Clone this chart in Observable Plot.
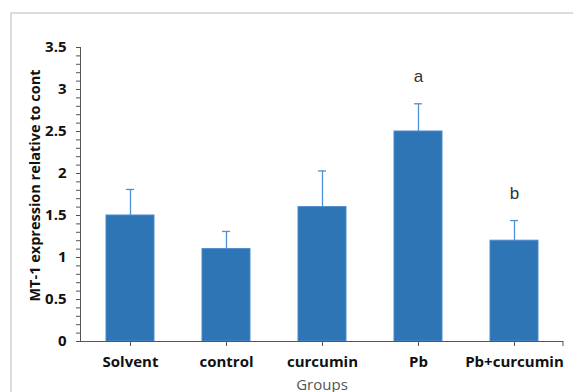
<!DOCTYPE html>
<html>
<head>
<meta charset="utf-8">
<script src="https://cdn.jsdelivr.net/npm/d3@7"></script>
<script src="https://cdn.jsdelivr.net/npm/@observablehq/plot@0.6"></script>
<style>
  html, body { margin: 0; padding: 0; background: #fff; overflow: hidden; }
  #wrap { position: relative; width: 573px; height: 392px; }
  #frame { position: absolute; left: 10px; top: 12px; width: 600px; height: 400px;
           border-left: 2px solid #dcdcdc; border-top: 2px solid #dcdcdc; }
  #chart { position: absolute; left: 0; top: 0; }
</style>
</head>
<body>
<div id="wrap"><div id="frame"></div><div id="chart"></div></div>
<script>
const groups = ["Solvent", "control", "curcumin", "Pb", "Pb+curcumin"];
const means = [1.5, 1.1, 1.6, 2.5, 1.2];
const upperErr = [1.81, 1.31, 2.03, 2.83, 1.44];
const letters = ["", "", "", "a", "b"];
const yTicks = [0, 0.5, 1, 1.5, 2, 2.5, 3, 3.5];
const yMinorTicks = d3.range(0, 36).map(i => i / 10);
const yLabel = "MT-1 expression relative to cont";
const xLabel = "Groups";

const data = groups.map((g, i) => ({group: g, value: means[i], upper: upperErr[i], letter: letters[i]}));

const font = "'Open Sans', sans-serif";
const barFill = "#2E75B6";
const errColor = "#4F8FD6";

const endTick = (index, scales, values, dims) => {
  const ns = "http://www.w3.org/2000/svg";
  const g = document.createElementNS(ns, "g");
  const x = dims.width - dims.marginRight;
  const y = scales.y(0);
  const l = document.createElementNS(ns, "line");
  l.setAttribute("x1", x); l.setAttribute("x2", x);
  l.setAttribute("y1", y); l.setAttribute("y2", y + 5);
  l.setAttribute("stroke", "#555");
  g.appendChild(l);
  return g;
};

const chart = Plot.plot({
  width: 573,
  height: 392,
  marginLeft: 80,
  marginRight: 10,
  marginTop: 47,
  marginBottom: 51,
  style: {fontFamily: font, background: "transparent", overflow: "visible"},
  x: {domain: groups, paddingInner: 0.5, paddingOuter: 0.25, label: null},
  y: {domain: [0, 3.5], label: null},
  marks: [
    Plot.barY(data, {x: "group", y: "value", fill: barFill, stroke: "#4C8ACB", strokeWidth: 1}),
    Plot.ruleX(data, {x: "group", y1: "value", y2: "upper", stroke: errColor, strokeWidth: 1.3}),
    Plot.tickY(data, {x: "group", y: "upper", stroke: errColor, strokeWidth: 1.3, insetLeft: 20, insetRight: 20}),
    Plot.text(data.filter(d => d.letter), {x: "group", y: "upper", text: "letter", dy: -27,
      fontSize: 17, fill: "#333", fontFamily: "'Liberation Sans', sans-serif"}),
    Plot.axisY({ticks: yMinorTicks, tickSize: 4, tickFormat: null, stroke: "#555", text: null}),
    Plot.axisY({ticks: yTicks, tickSize: 4, tickPadding: 10, tickFormat: d => String(d),
      fontSize: 15, fontWeight: "bold", fill: "#111", stroke: "#555", label: null}),
    Plot.axisX({tickSize: 5, tickPadding: 10, fontSize: 15, fontWeight: "bold", fill: "#111", stroke: "#555", label: null}),
    Plot.frame({anchor: "left", stroke: "#555"}),
    Plot.ruleY([0], {stroke: "#555"}),
    endTick,
    Plot.text([yLabel], {frameAnchor: "left", textAnchor: "middle", dx: -45, dy: -9, rotate: -90,
      fontSize: 14.5, fontWeight: "bold", fill: "#111"}),
    Plot.text([xLabel], {frameAnchor: "bottom", dy: 48, fontSize: 15, fill: "#555"})
  ]
});
document.getElementById("chart").appendChild(chart);
</script>
</body>
</html>
